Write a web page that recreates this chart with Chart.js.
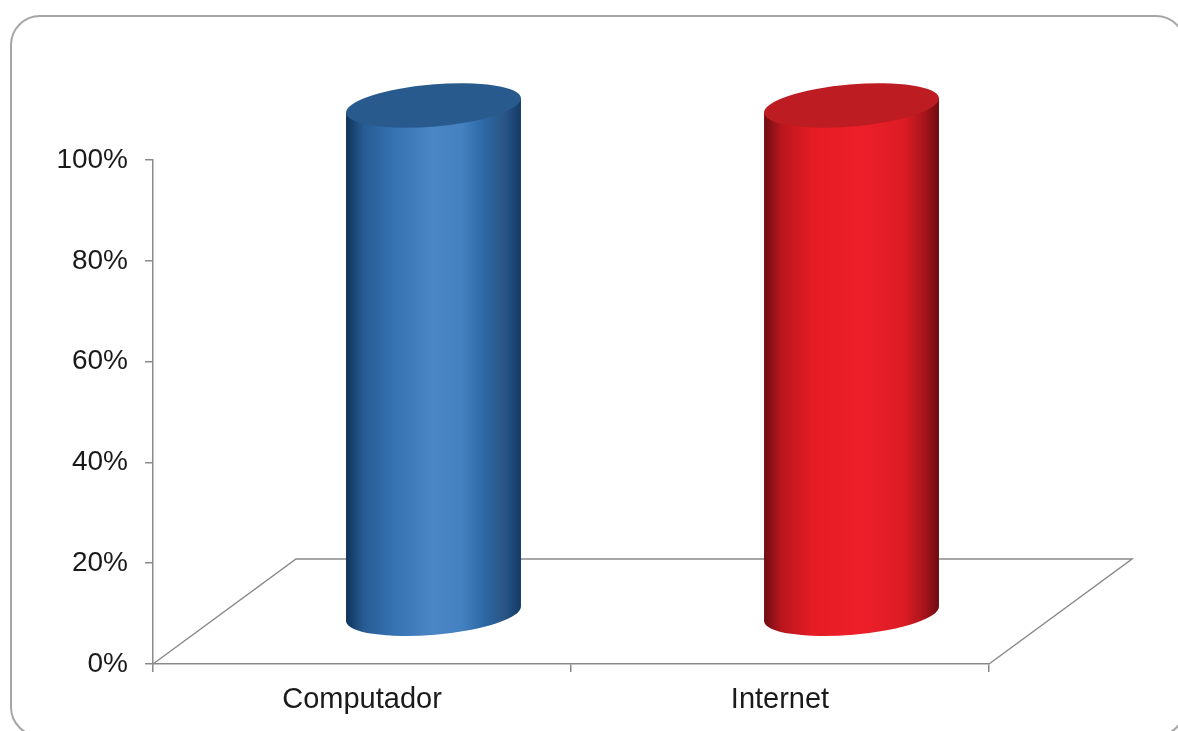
<!DOCTYPE html>
<html>
<head>
<meta charset="utf-8">
<script src="https://cdn.jsdelivr.net/npm/chart.js@4"></script>
<style>
    html, body { margin: 0; padding: 0; background: #ffffff; }
    #wrap { position: relative; width: 1178px; height: 731px; overflow: hidden; }
    #frame {
        position: absolute; left: 10px; top: 15px; width: 1176px; height: 722px;
        border: 2px solid #a6a6a6; border-radius: 30px; box-sizing: border-box;
    }
    #basechart { position: absolute; left: 0; top: 0; }
</style>
</head>
<body>
<div id="wrap">
    <div id="frame"></div>
    <canvas id="basechart" width="1178" height="731"></canvas>
</div>
<script>
const categories = ['Computador', 'Internet'];
const values = [1.0, 1.0]; // both at 100%
const tickValues = [0, 0.2, 0.4, 0.6, 0.8, 1.0];

const depth = { dx: 143, dy: -105 }; // floor depth offset
const axisColor = '#8a8a8a';

// side gradients (left to right) and top cap colour per bar
const cylStyles = [
    {
        stops: [[0, '#0c3259'], [0.1, '#285b93'], [0.28, '#3673b2'], [0.5, '#4b86c6'], [0.66, '#4481c1'], [0.78, '#2e6aa7'], [0.9, '#2a5585'], [1, '#123a66']],
        top: '#285a8d'
    },
    {
        stops: [[0, '#6e0d12'], [0.1, '#b8161e'], [0.28, '#e51c25'], [0.55, '#ee1f29'], [0.8, '#dc1c25'], [0.92, '#a5141b'], [1, '#6a0c10']],
        top: '#bd1c22'
    }
];

// Floor parallelogram behind the bars
const floorPlugin = {
    id: 'floor',
    beforeDatasetsDraw(chart) {
        const { ctx, scales: { x, y } } = chart;
        const y0 = y.getPixelForValue(0);
        ctx.save();
        ctx.strokeStyle = axisColor;
        ctx.lineWidth = 1.5;
        ctx.beginPath();
        ctx.moveTo(x.left, y0);
        ctx.lineTo(x.left + depth.dx, y0 + depth.dy);
        ctx.lineTo(x.right + depth.dx, y0 + depth.dy);
        ctx.lineTo(x.right, y0);
        ctx.stroke();
        ctx.restore();
    }
};

// Cylinders drawn from the bar elements, moved half way into the depth
const cylinderPlugin = {
    id: 'cylinders',
    afterDatasetsDraw(chart) {
        const { ctx } = chart;
        const meta = chart.getDatasetMeta(0);
        const rot = -0.085;
        meta.data.forEach((bar, i) => {
            const p = bar.getProps(['x', 'y', 'base', 'width'], true);
            const cx = p.x + depth.dx / 2;
            const topY = p.y + depth.dy / 2 - 2;
            const botY = p.base + depth.dy / 2 + 3;
            const rx = p.width / 2;
            const ry = 21;
            const ex = rx * Math.cos(rot), ey = rx * Math.sin(rot);
            const st = cylStyles[i];

            const grad = ctx.createLinearGradient(cx - rx, 0, cx + rx, 0);
            st.stops.forEach(s => grad.addColorStop(s[0], s[1]));

            ctx.save();
            ctx.beginPath();
            ctx.moveTo(cx + ex, topY + ey);
            ctx.lineTo(cx + ex, botY + ey);
            ctx.ellipse(cx, botY, rx, ry, rot, 0, Math.PI);
            ctx.lineTo(cx - ex, topY - ey);
            ctx.closePath();
            ctx.fillStyle = grad;
            ctx.fill();

            ctx.beginPath();
            ctx.ellipse(cx, topY, rx, ry, rot, 0, Math.PI * 2);
            ctx.fillStyle = st.top;
            ctx.fill();
            ctx.restore();
        });
    }
};

const fontFamily = '"Liberation Sans", Arial, sans-serif';

new Chart(document.getElementById('basechart').getContext('2d'), {
    type: 'bar',
    data: {
        labels: categories,
        datasets: [{
            data: values,
            backgroundColor: 'rgba(0,0,0,0)',
            borderWidth: 0,
            barPercentage: 0.42,
            categoryPercentage: 1
        }]
    },
    options: {
        responsive: false,
        animation: false,
        layout: { padding: { left: 0, right: 189, top: 160, bottom: 0 } },
        plugins: {
            legend: { display: false },
            tooltip: { enabled: false }
        },
        scales: {
            y: {
                min: 0,
                max: 1,
                afterBuildTicks(scale) {
                    scale.ticks = tickValues.map(v => ({ value: v }));
                },
                afterFit(scale) { scale.width = 153; },
                ticks: {
                    padding: 17,
                    color: '#1a1a1a',
                    font: { family: fontFamily, size: 28 },
                    callback: v => Math.round(v * 100) + '%'
                },
                grid: { drawOnChartArea: false, tickLength: 8, color: axisColor, lineWidth: 1.5 },
                border: { color: axisColor, width: 1.5 }
            },
            x: {
                afterFit(scale) { scale.height = 67; },
                ticks: {
                    padding: 11,
                    color: '#1a1a1a',
                    font: { family: fontFamily, size: 29 }
                },
                grid: { offset: true, drawOnChartArea: false, tickLength: 8, color: axisColor, lineWidth: 1.5 },
                border: { color: axisColor, width: 1.5 }
            }
        }
    },
    plugins: [floorPlugin, cylinderPlugin]
});
</script>
</body>
</html>
